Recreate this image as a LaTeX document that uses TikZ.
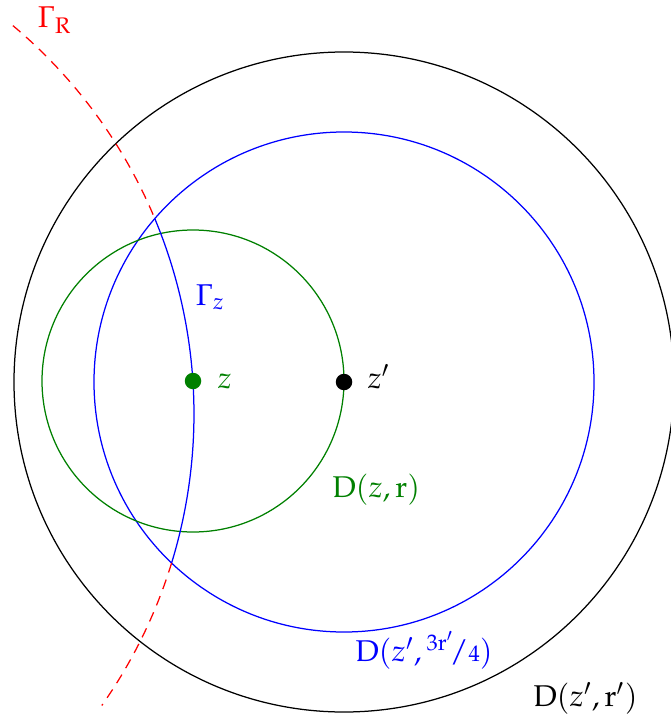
\documentclass[tikz,border=0pt]{standalone}
\usepackage{mathpazo}
\definecolor{dgreen}{RGB}{0,128,0}
\tikzset{
  lbl/.style={inner sep=0pt, anchor=base west, font=\large},
  dot/.style={circle, inner sep=0pt, minimum size=6.6pt},
  gammaR/.style={red, line width=0.5pt, dash pattern=on 4pt off 3pt},
}
\begin{document}
\begin{tikzpicture}[x=0.4pt, y=0.4pt, line width=0.5pt]
\useasboundingbox (0,0) rectangle (671,-719);
\coordinate (zp) at (344,-382);
\coordinate (C) at (-313,-414);
% circles
\draw[black] (zp) circle[radius=330];
\draw[blue] (zp) circle[radius=250];
\draw[dgreen] (193,-381) circle[radius=151];
% Gamma_R and Gamma_z
\draw[gammaR] ([shift={(50:507)}]C) arc[start angle=50, end angle=22.67, radius=507];
\draw[blue] ([shift={(22.67:507)}]C) arc[start angle=22.67, end angle=-17.09, radius=507];
\draw[gammaR] ([shift={(-17.09:507)}]C) arc[start angle=-17.09, end angle=-35.1, radius=507];
% points
\node[dot, fill=dgreen] (z) at (193,-381) {};
\node[dot, fill=black] (zpd) at (zp) {};
% labels
\node[lbl, red] (lGR) at (37,-28) {$\Gamma_{\mathrm{R}}$};
\node[lbl, blue] (lGz) at (195,-305) {$\Gamma_z$};
\node[lbl, dgreen] (lz) at (217,-388) {$z$};
\node[lbl, black] (lzp) at (367,-388) {$z'$};
\node[lbl, dgreen] (lDz) at (332,-497) {$\mathrm{D}(z,\mathrm{r})$};
\node[lbl, blue] (lD34) at (355,-661) {$\mathrm{D}(z',{}^{3\mathrm{r}'}\!/{\scriptstyle 4})$};
\node[lbl, black] (lDr) at (533,-706) {$\mathrm{D}(z',\mathrm{r}')$};
\end{tikzpicture}
\end{document}
